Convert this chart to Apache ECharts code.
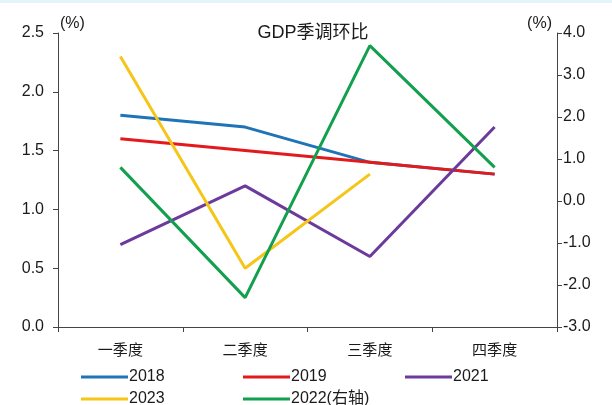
<!DOCTYPE html>
<html>
<head>
<meta charset="utf-8">
<script src="https://cdn.jsdelivr.net/npm/echarts@6/dist/echarts.min.js"></script>
<style>
  html, body { margin: 0; padding: 0; background: #fff; }
  #chart { width: 612px; height: 405px; }
</style>
</head>
<body>
<div id="chart"></div>
<script>
const quarters = ["一季度", "二季度", "三季度", "四季度"];
const y2018 = [1.8, 1.7, 1.4, 1.3];
const y2019 = [1.6, 1.5, 1.4, 1.3];
const y2021 = [0.7, 1.2, 0.6, 1.7];
const y2023 = [2.3, 0.5, 1.3, null];
const y2022 = [0.8, -2.3, 3.7, 0.8]; // right axis

const font = "Liberation Sans, Arial, Noto Sans CJK SC, sans-serif";
const txt = "#1a1a1a";

const chart = echarts.init(document.getElementById("chart"));

const lineSeries = (name, data, color, axis) => ({
  name: name,
  type: "line",
  yAxisIndex: axis,
  data: data,
  symbol: "none",
  lineStyle: { color: color, width: 3 },
  itemStyle: { color: color },
});

const legendAt = (name, left, top) => ({
  data: [name],
  left: left,
  top: top,
  itemWidth: 47,
  itemHeight: 3,
  itemGap: 0,
  textStyle: { fontFamily: font, fontSize: 16, color: txt, padding: [0, 0, 0, -4] },
  icon: "rect",
});

chart.setOption({
  backgroundColor: "#fff",
  animation: false,
  graphic: [
    { type: "rect", left: 0, top: 0, shape: { width: 612, height: 3 }, style: { fill: "#e4f2fa" }, silent: true },
  ],
  title: {
    text: "GDP季调环比",
    left: 308,
    top: 19,
    textAlign: "center",
    textStyle: { fontFamily: font, fontSize: 18, fontWeight: "normal", color: txt },
  },
  legend: [
    legendAt("2018", 76, 364),
    legendAt("2019", 238, 364),
    legendAt("2021", 400, 364),
    legendAt("2023", 76, 386),
    legendAt("2022(右轴)", 238, 386),
  ],
  grid: { left: 58, right: 55, top: 33, bottom: 78 },
  xAxis: {
    type: "category",
    data: quarters,
    boundaryGap: true,
    axisLine: { lineStyle: { color: "#444", width: 1 } },
    axisTick: { show: true, length: 5, lineStyle: { color: "#444" } },
    axisLabel: { fontFamily: "Noto Sans CJK SC", fontSize: 15, color: txt, margin: 15 },
  },
  yAxis: [
    {
      type: "value",
      min: 0,
      max: 2.5,
      interval: 0.5,
      name: "(%)",
      nameLocation: "end",
      nameGap: 1,
      nameTextStyle: { fontFamily: font, fontSize: 16, color: txt, align: "left", padding: [0, 0, 0, 2] },
      axisLine: { show: true, lineStyle: { color: "#444" } },
      axisTick: { show: true, length: 5, lineStyle: { color: "#444" } },
      axisLabel: { fontFamily: font, fontSize: 16, color: txt, margin: 14, formatter: (v) => v.toFixed(1) },
      splitLine: { show: false },
    },
    {
      type: "value",
      min: -3,
      max: 4,
      interval: 1,
      name: "(%)",
      nameLocation: "end",
      nameGap: 1,
      nameTextStyle: { fontFamily: font, fontSize: 16, color: txt, align: "right", padding: [0, 5, 0, 0] },
      axisLine: { show: true, lineStyle: { color: "#444" } },
      axisTick: { show: true, length: 5, lineStyle: { color: "#444" } },
      axisLabel: { fontFamily: font, fontSize: 16, color: txt, margin: 6, formatter: (v) => v.toFixed(1) },
      splitLine: { show: false },
    },
  ],
  series: [
    lineSeries("2018", y2018, "#1f74b8", 0),
    lineSeries("2019", y2019, "#e3191c", 0),
    lineSeries("2021", y2021, "#6b3a9a", 0),
    lineSeries("2023", y2023, "#f5c518", 0),
    lineSeries("2022(右轴)", y2022, "#13a04e", 1),
  ],
});
</script>
</body>
</html>
